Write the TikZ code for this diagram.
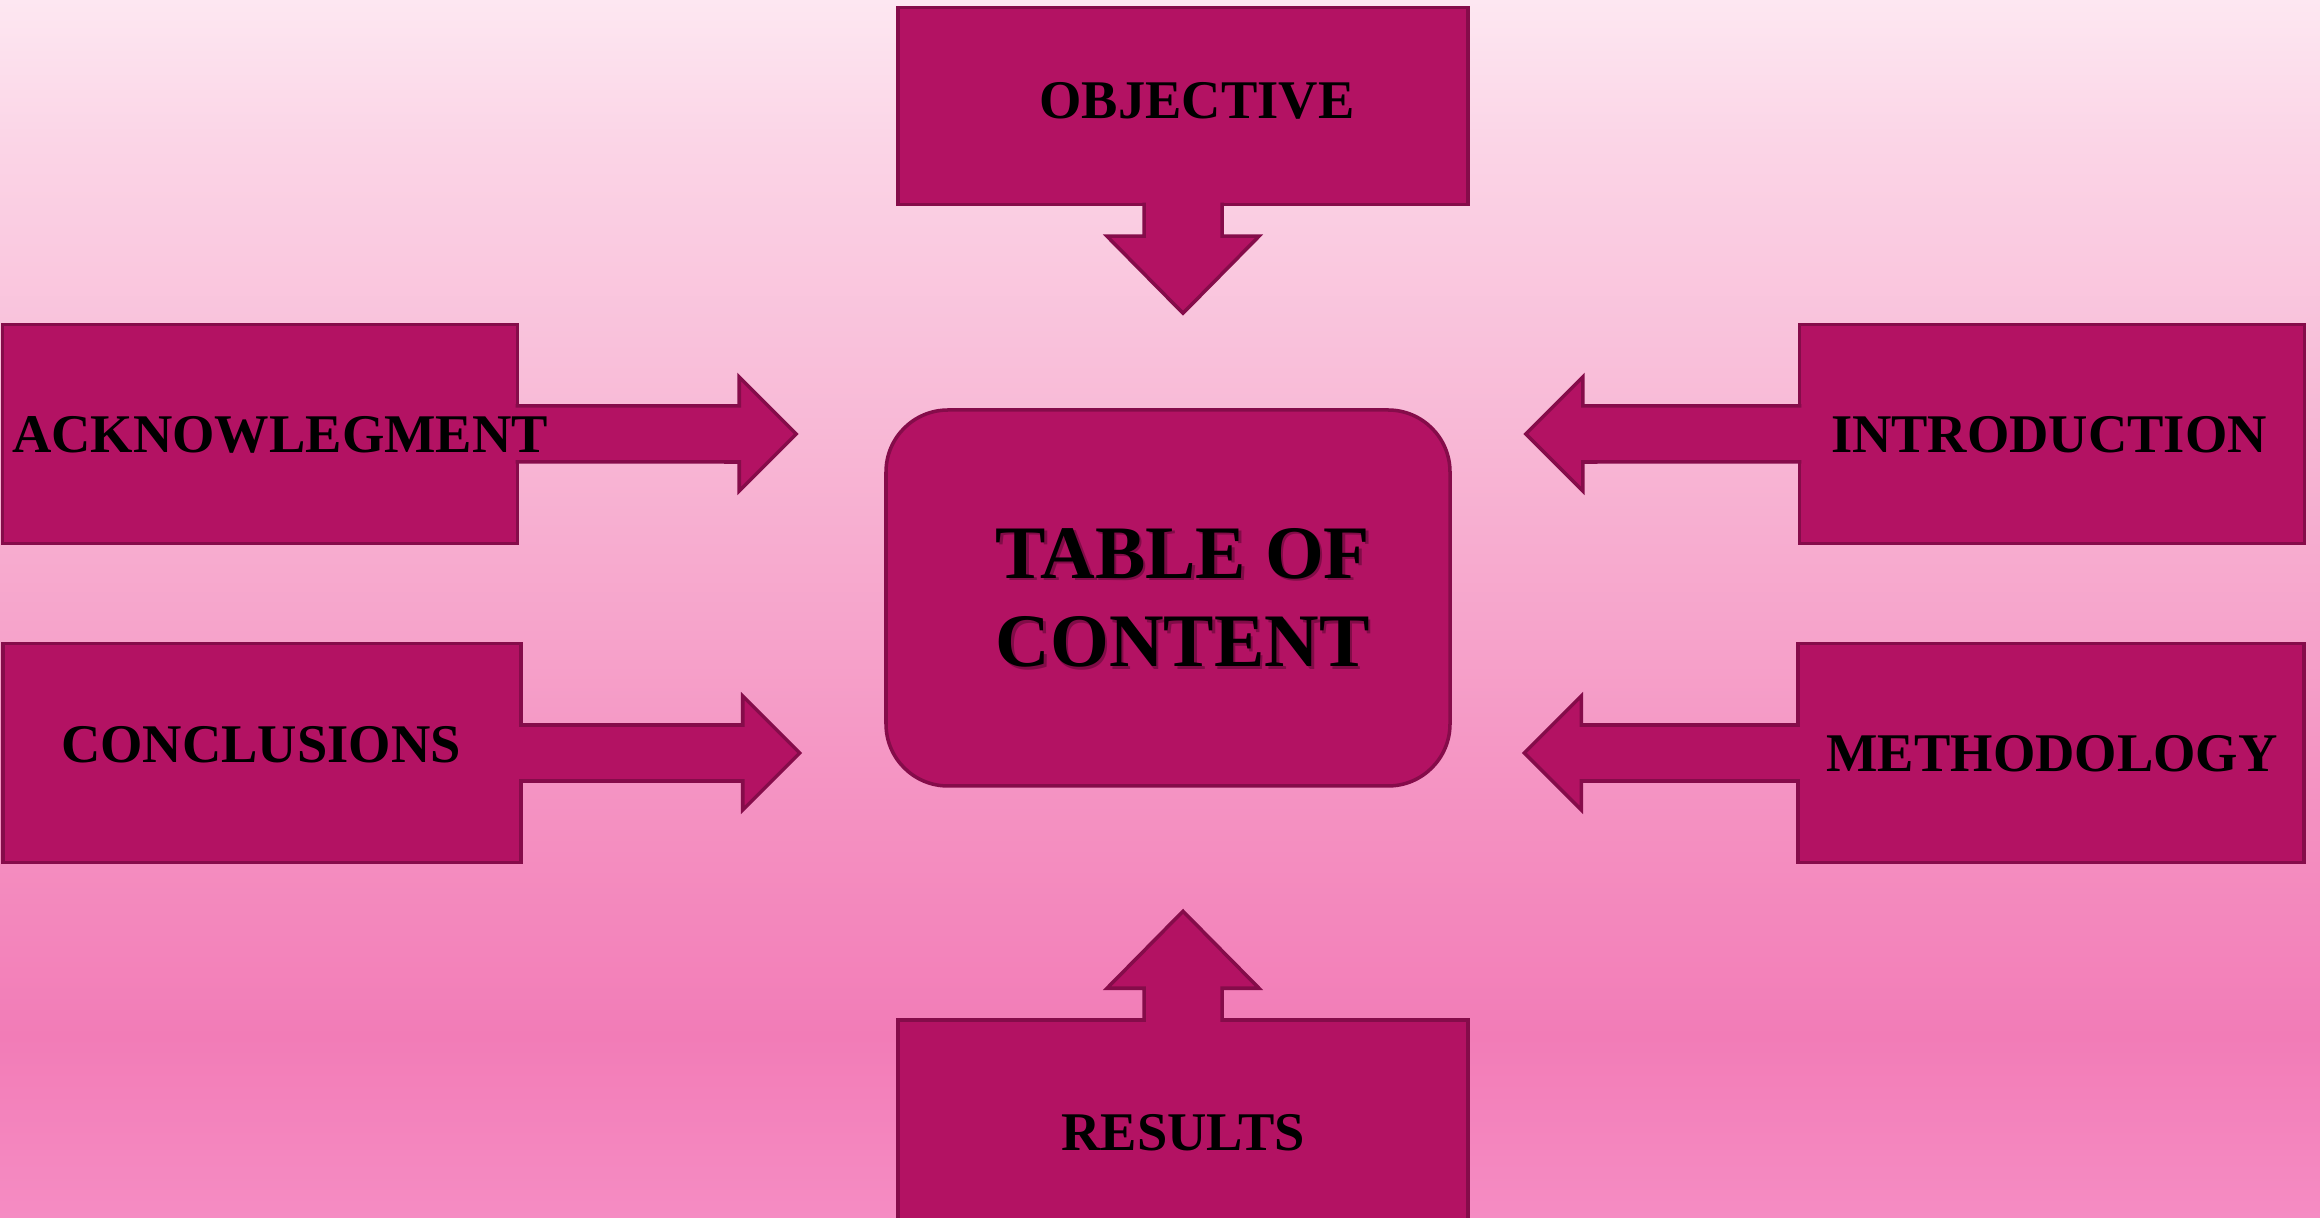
\documentclass[tikz,border=0pt]{standalone}
\usepackage{fontspec}
\setmainfont{Liberation Serif}
\definecolor{tocfill}{RGB}{179, 18, 99}
\definecolor{tocedge}{RGB}{133, 12, 74}
\definecolor{bgtop}{RGB}{253, 231, 241}
\definecolor{bgpale}{RGB}{251, 212, 230}
\definecolor{bglight}{RGB}{248, 183, 213}
\definecolor{bgmid}{RGB}{245, 152, 197}
\definecolor{bgdeep}{RGB}{242, 124, 183}
\definecolor{bgbottom}{RGB}{245, 140, 195}
\pgfdeclareverticalshading{tocbg}{100bp}{color(0bp)=(bgbottom); color(25bp)=(bgbottom); color(32.5bp)=(bgdeep); color(44.6bp)=(bgmid); color(56.8bp)=(bglight); color(68.9bp)=(bgpale); color(75bp)=(bgtop); color(100bp)=(bgtop)}

\begin{document}
\begin{tikzpicture}[
    part/.style={draw=tocedge, fill=tocfill, line width=1pt, inner sep=0pt},
    partbox/.style={part, rectangle, minimum height=2.19cm},
    parttext/.style={font=\bfseries\fontsize{15.5}{18}\selectfont, text height=10.3pt, text depth=0pt, inner sep=0pt},
    toctext/.style={font=\bfseries\fontsize{21.5}{25.2}\selectfont, align=left, inner sep=0pt}
  ]
  \useasboundingbox (0,0) rectangle (23.2,12.18);
  \shade[shading=tocbg] (0,0) rectangle (23.2,12.18);

  \node[partbox, minimum width=5.70cm, minimum height=1.97cm] (obj) at (11.83,11.12) {};
  \node[part, rounded corners=0.62cm, minimum width=5.64cm, minimum height=3.76cm] (toc) at (11.68,6.20) {};
  \node[partbox, minimum width=5.15cm] (ack) at (2.60,7.84) {};
  \node[partbox, minimum width=5.18cm] (concl) at (2.62,4.65) {};
  \node[partbox, minimum width=5.05cm] (intro) at (20.52,7.84) {};
  \node[partbox, minimum width=5.06cm] (meth) at (20.51,4.65) {};
  \node[partbox, minimum width=5.70cm, minimum height=2.08cm] (res) at (11.83,0.94) {};

  \foreach \nd/\sd/\dir/\len in {ack/east/1/2.2, concl/east/1/2.2, intro/west/-1/2.15, meth/west/-1/2.15}
    \draw[part] ([xshift={-(\dir)*1pt}, yshift=0.28cm]\nd.\sd) -- ++({\dir*(\len+0.035)},0) -- ++(0,0.29)
      -- ++({\dir*0.57},-0.57) -- ++({-\dir*0.57},-0.57) -- ++(0,0.29)
      -- ([xshift={-(\dir)*1pt}, yshift=-0.28cm]\nd.\sd);
  \foreach \nd/\sd/\dir in {obj/south/-1, res/north/1}
    \draw[part] ([xshift=-0.39cm, yshift={-(\dir)*1pt}]\nd.\sd) -- ++(0,{\dir*0.335}) -- ++(-0.37,0)
      -- ++(0.76,{\dir*0.77}) -- ++(0.76,{-\dir*0.77}) -- ++(-0.37,0)
      -- ([xshift=0.39cm, yshift={-(\dir)*1pt}]\nd.\sd);

  \node[parttext] (objtext) at (11.97,11.18) {OBJECTIVE};
  \node[parttext] (acktext) at (2.80,7.84) {ACKNOWLEGMENT};
  \node[parttext] (concltext) at (2.61,4.74) {CONCLUSIONS};
  \node[parttext] (introtext) at (20.49,7.84) {INTRODUCTION};
  \node[parttext] (methtext) at (20.52,4.65) {METHODOLOGY};
  \node[parttext] (restext) at (11.83,0.86) {RESULTS};
  \node[toctext, text=tocedge!40!black, opacity=0.4] (tocshadow) at (11.855,6.175) {TABLE OF\\CONTENT};
  \node[toctext] (toctitle) at (11.83,6.20) {TABLE OF\\CONTENT};
\end{tikzpicture}
\end{document}
